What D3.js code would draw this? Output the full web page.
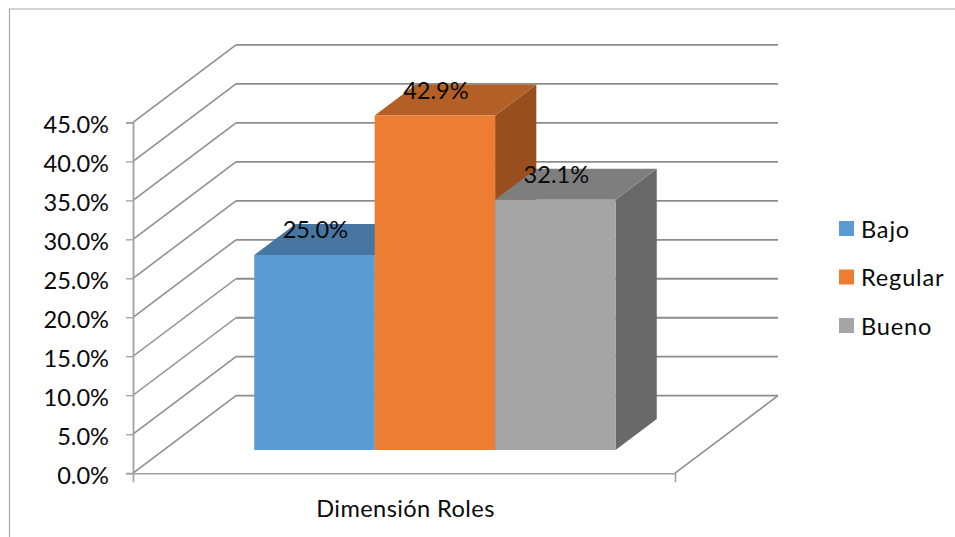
<!DOCTYPE html>
<html lang="es">
<head>
<meta charset="utf-8">
<title>Dimensión Roles</title>
<script src="https://cdn.jsdelivr.net/npm/d3@7"></script>
<style>
  html, body { margin: 0; padding: 0; background: #fff; }
  svg { display: block; }
  text { font-family: Lato, "Open Sans", sans-serif; fill: #0a0a0a; }
</style>
</head>
<body>
<svg id="chart" width="955" height="537"></svg>
<script>
// Chart values
const categories = ["Dimensión Roles"];
const seriesNames = ["Bajo", "Regular", "Bueno"];
const seriesValues = [25.0, 42.9, 32.1];
const yTickValues = [0, 5, 10, 15, 20, 25, 30, 35, 40, 45];
const frontColors = ["#5B9BD5", "#ED7D31", "#A5A5A5"];
const topColors = ["#4876A2", "#B45F25", "#7E7E7E"];
const sideColors = ["#3B6285", "#984F1D", "#696969"];

// Oblique projection of the 3D box
const depthX = 103, depthY = -77.5;
const barDepthFront = 0.3, barDepthBack = 0.7;
const floorLeft = 133, floorRight = 675;
const fontSize = 23.6;

const y = d3.scaleLinear().domain([0, 45]).range([473.2, 122.4]);
const x = d3.scaleBand().domain(seriesNames).range([floorLeft, floorRight])
  .paddingInner(0).paddingOuter(0.75);
const cat = d3.scaleBand().domain(categories).range([floorLeft, floorRight]);
const project = (px, value, depth) => [px + depth * depthX, y(value) + depth * depthY];

const svg = d3.select("#chart");
const line = d3.line();
const gridColor = "#8c8c8c";

// Outer chart frame, cut off by the page edges
svg.append("path")
  .attr("d", "M9.5,537V9H955")
  .attr("fill", "none").attr("stroke", "#a8a8a8").attr("stroke-width", 1.2);

// Back wall and side wall gridlines
const grid = svg.append("g").attr("fill", "none").attr("stroke", gridColor);
grid.selectAll("path.back").data(yTickValues).join("path").attr("class", "back")
  .attr("stroke-width", 1.8)
  .attr("d", v => line([project(floorLeft, v, 1), project(floorRight, v, 1)]));
grid.selectAll("path.side").data(yTickValues).join("path").attr("class", "side")
  .attr("stroke-width", 1.5)
  .attr("d", v => line([project(floorLeft, v, 0), project(floorLeft, v, 1)]));

// Right edge of the floor
grid.append("path").attr("stroke-width", 1.5)
  .attr("d", line([project(floorRight, 0, 0), project(floorRight, 0, 1)]));

// Value axis
const yAxis = svg.append("g")
  .attr("transform", `translate(${floorLeft},0)`)
  .call(d3.axisLeft(y).tickValues(yTickValues).tickSize(7).tickPadding(17)
    .tickFormat(v => v.toFixed(1) + "%"));
yAxis.selectAll("path.domain").attr("stroke", "#a0a0a0").attr("stroke-width", 1.8);
yAxis.selectAll("line").attr("stroke", "#a0a0a0").attr("stroke-width", 1.3);
yAxis.selectAll("text").attr("font-size", fontSize).attr("font-family", null)
  .attr("fill", "#0a0a0a").attr("dy", "0.42em");

// Category axis along the front of the floor
const xAxis = svg.append("g")
  .attr("transform", `translate(0,${y(0)})`)
  .call(d3.axisBottom(cat).tickValues([]).tickSizeOuter(9));
xAxis.selectAll("path.domain").attr("stroke", "#a0a0a0").attr("stroke-width", 1.6).attr("fill", "none");
svg.selectAll("text.category").data(categories).join("text").attr("class", "category")
  .attr("x", d => cat(d) + cat.bandwidth() / 2 + 1.5)
  .attr("y", 517)
  .attr("text-anchor", "middle")
  .attr("font-size", fontSize)
  .attr("letter-spacing", 0.4)
  .text(d => d);

// Bars, left to right so each box overlaps its neighbour's side
const bars = svg.append("g").selectAll("g").data(seriesNames).join("g");
const poly = pts => line(pts) + "Z";
bars.append("path").attr("fill", (d, i) => sideColors[i])
  .attr("d", (d, i) => {
    const r = x(d) + x.bandwidth();
    return poly([project(r, 0, barDepthFront), project(r, 0, barDepthBack),
      project(r, seriesValues[i], barDepthBack), project(r, seriesValues[i], barDepthFront)]);
  });
bars.append("path").attr("fill", (d, i) => topColors[i])
  .attr("d", (d, i) => {
    const l = x(d), r = l + x.bandwidth(), v = seriesValues[i];
    return poly([project(l, v, barDepthFront), project(r, v, barDepthFront),
      project(r, v, barDepthBack), project(l, v, barDepthBack)]);
  });
bars.append("path").attr("fill", (d, i) => frontColors[i])
  .attr("d", (d, i) => {
    const l = x(d), r = l + x.bandwidth(), v = seriesValues[i];
    return poly([project(l, 0, barDepthFront), project(r, 0, barDepthFront),
      project(r, v, barDepthFront), project(l, v, barDepthFront)]);
  });

// Data labels straddling the top of each box
svg.append("g").selectAll("text").data(seriesNames).join("text")
  .attr("x", d => project(x(d) + x.bandwidth() / 2, 0, barDepthFront)[0] + 1)
  .attr("y", (d, i) => project(0, seriesValues[i], barDepthFront)[1] - 17)
  .attr("text-anchor", "middle")
  .attr("font-size", fontSize)
  .text((d, i) => seriesValues[i].toFixed(1) + "%");

// Legend
const legendY = d3.scalePoint().domain(seriesNames).range([228.5, 325.5]);
const legend = svg.append("g").selectAll("g").data(seriesNames).join("g")
  .attr("transform", d => `translate(839,${legendY(d)})`);
legend.append("rect").attr("x", 0).attr("y", -7.5).attr("width", 15).attr("height", 15)
  .attr("fill", (d, i) => frontColors[i]);
legend.append("text").attr("x", 22).attr("y", 9).attr("font-size", fontSize)
  .attr("letter-spacing", 0.8).text(d => d);
</script>
</body>
</html>
